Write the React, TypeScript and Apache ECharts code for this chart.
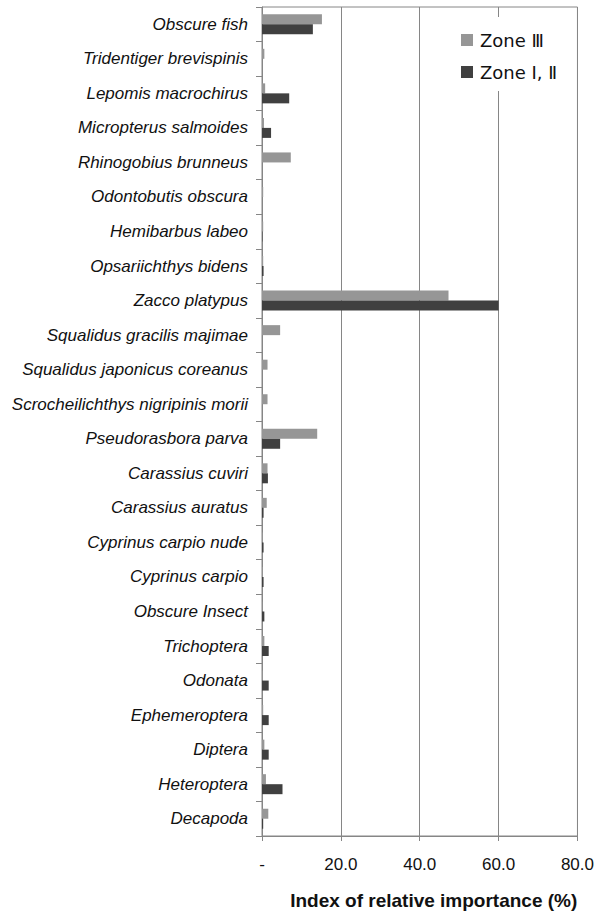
import React, { useEffect, useRef } from "react";
import * as echarts from "echarts";

// Prey items, listed top to bottom
const categories: string[] = [
  "Obscure fish",
  "Tridentiger brevispinis",
  "Lepomis macrochirus",
  "Micropterus salmoides",
  "Rhinogobius brunneus",
  "Odontobutis obscura",
  "Hemibarbus labeo",
  "Opsariichthys bidens",
  "Zacco platypus",
  "Squalidus gracilis majimae",
  "Squalidus japonicus coreanus",
  "Scrocheilichthys nigripinis morii",
  "Pseudorasbora parva",
  "Carassius cuviri",
  "Carassius auratus",
  "Cyprinus carpio nude",
  "Cyprinus carpio",
  "Obscure Insect",
  "Trichoptera",
  "Odonata",
  "Ephemeroptera",
  "Diptera",
  "Heteroptera",
  "Decapoda",
];

// Index of relative importance (%), Zone III
const zone3: number[] = [
  15.2, 0.6, 0.8, 0.5, 7.3, 0.3, 0.3, 0.3, 47.3, 4.6, 1.4, 1.4,
  14.0, 1.4, 1.2, 0.2, 0.2, 0.1, 0.6, 0.2, 0.3, 0.6, 1.0, 1.6,
];

// Index of relative importance (%), Zone I, II
const zone12: number[] = [
  12.9, 0, 6.9, 2.3, 0, 0, 0.1, 0.4, 60.0, 0, 0, 0,
  4.6, 1.5, 0.4, 0.4, 0.4, 0.6, 1.7, 1.7, 1.7, 1.7, 5.2, 0.3,
];

const seriesNames: string[] = ["Zone Ⅲ", "Zone Ⅰ, Ⅱ"];
const xTicks: number[] = [0, 20, 40, 60, 80];

const LINE = "#868686";
const FONT = "'Liberation Sans', Arial, sans-serif";

export default function App() {
  const ref = useRef<HTMLDivElement>(null);

  useEffect(() => {
    if (!ref.current) return;
    const chart = echarts.init(ref.current, undefined, { renderer: "svg" });
    chart.setOption({
      animation: false,
      backgroundColor: "#fff",
      grid: {
        left: 262,
        right: 15,
        top: 7,
        bottom: 62,
        show: true,
        borderColor: LINE,
        borderWidth: 1,
      },
      legend: {
        data: seriesNames,
        orient: "vertical",
        left: 451,
        top: 17,
        padding: [14, 16, 10, 10],
        backgroundColor: "#fff",
        itemWidth: 12,
        itemHeight: 12,
        itemGap: 14,
        icon: "rect",
        textStyle: {
          fontFamily: "'DejaVu Sans', sans-serif",
          fontSize: 18,
          color: "#111",
          padding: [0, 0, 0, 2],
        },
      },
      xAxis: {
        type: "value",
        min: xTicks[0],
        max: xTicks[xTicks.length - 1],
        interval: xTicks[1] - xTicks[0],
        axisLine: { show: true, lineStyle: { color: LINE } },
        axisTick: { show: true, length: 5, lineStyle: { color: LINE } },
        splitLine: { show: true, lineStyle: { color: LINE } },
        axisLabel: {
          margin: 20,
          fontFamily: FONT,
          fontSize: 17,
          color: "#111",
          formatter: (v: number) => (v === 0 ? "-" : v.toFixed(1)),
        },
        name: "Index of relative importance (%)",
        nameLocation: "middle",
        nameGap: 55,
        nameTextStyle: {
          fontFamily: FONT,
          fontSize: 19,
          fontWeight: "bold",
          color: "#111",
          padding: [0, 0, 0, 28],
        },
      },
      yAxis: {
        type: "category",
        inverse: true,
        data: categories,
        axisLine: { show: true, lineStyle: { color: LINE } },
        axisTick: { show: true, length: 6, lineStyle: { color: LINE } },
        axisLabel: {
          interval: 0,
          margin: 14,
          fontFamily: FONT,
          fontStyle: "italic",
          fontSize: 17,
          color: "#111",
        },
      },
      series: [
        {
          name: seriesNames[0],
          type: "bar",
          data: zone3,
          barWidth: 10,
          barGap: "0%",
          itemStyle: { color: "#969696" },
        },
        {
          name: seriesNames[1],
          type: "bar",
          data: zone12,
          barWidth: 10,
          barGap: "0%",
          itemStyle: { color: "#404040" },
        },
      ],
    });
    return () => chart.dispose();
  }, []);

  return (
    <div
      ref={ref}
      style={{ position: "absolute", left: 0, top: 0, width: 597, height: 915 }}
    />
  );
}
